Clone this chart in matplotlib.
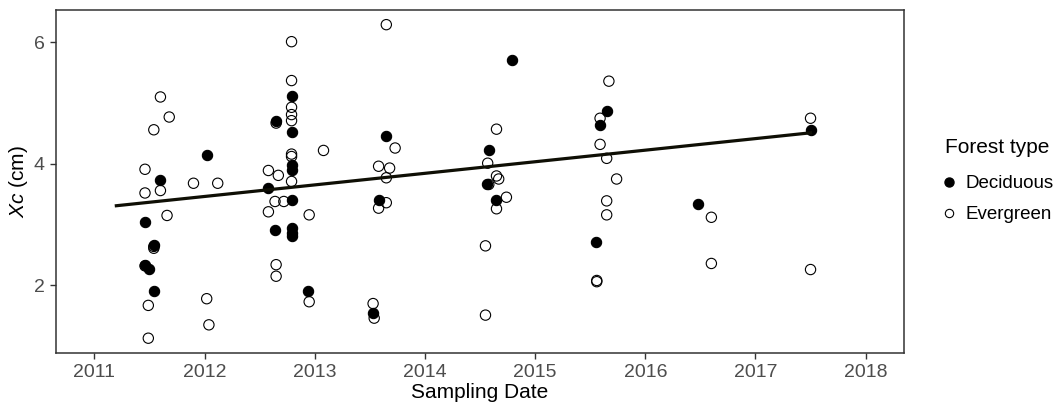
import matplotlib
matplotlib.use('Agg')
import matplotlib.pyplot as plt
from matplotlib.lines import Line2D

plt.rcParams['font.family'] = ['Liberation Sans', 'DejaVu Sans']
plt.rcParams['mathtext.fontset'] = 'custom'
plt.rcParams['mathtext.it'] = 'Liberation Sans:italic'
plt.rcParams['mathtext.rm'] = 'Liberation Sans'

# Deciduous plots (filled)
dec_x = [2011.46, 2011.46, 2011.50, 2011.54, 2011.54, 2011.60, 2012.02, 2012.58,
         2012.65, 2012.64, 2012.79, 2012.79, 2012.79, 2012.79, 2012.79, 2012.79,
         2012.79, 2012.79, 2012.94, 2013.53, 2013.58, 2013.65, 2014.56, 2014.58,
         2014.65, 2014.79, 2015.55, 2015.59, 2015.65, 2016.48, 2017.50]
dec_y = [3.05, 2.34, 2.27, 2.66, 1.91, 3.73, 4.15, 3.61,
         4.70, 2.91, 5.11, 4.53, 3.98, 3.90, 3.41, 2.94,
         2.86, 2.82, 1.91, 1.54, 3.41, 4.46, 3.67, 4.22,
         3.40, 5.71, 2.72, 4.64, 4.87, 3.34, 4.56]

# Evergreen plots (open)
eve_x = [2011.46, 2011.46, 2011.49, 2011.49, 2011.54, 2011.54, 2011.54, 2011.46,
         2011.60, 2011.60, 2011.66, 2011.68, 2011.90, 2012.02, 2012.04, 2012.12,
         2012.58, 2012.58, 2012.64, 2012.65, 2012.65, 2012.65, 2012.67, 2012.72,
         2012.79, 2012.79, 2012.79, 2012.79, 2012.79, 2012.79, 2012.79, 2012.79,
         2012.95, 2012.95, 2013.08, 2013.53, 2013.54, 2013.58, 2013.58, 2013.65,
         2013.65, 2013.65, 2013.68, 2013.73, 2014.55, 2014.55, 2014.57, 2014.58,
         2014.65, 2014.65, 2014.65, 2014.67, 2014.74, 2015.56, 2015.56, 2015.59,
         2015.59, 2015.65, 2015.65, 2015.65, 2015.67, 2015.74, 2016.60, 2016.60,
         2017.50, 2017.50]
eve_y = [3.91, 3.52, 1.67, 1.13, 4.56, 2.61, 2.64, 2.32,
         5.10, 3.56, 3.15, 4.77, 3.68, 1.78, 1.35, 3.68,
         3.89, 3.21, 3.38, 4.67, 2.34, 2.15, 3.81, 3.38,
         6.01, 5.37, 4.93, 4.81, 4.71, 4.16, 4.12, 3.71,
         3.16, 1.73, 4.22, 1.70, 1.46, 3.96, 3.27, 6.29,
         3.77, 3.36, 3.93, 4.26, 2.65, 1.51, 4.01, 3.66,
         4.57, 3.80, 3.26, 3.75, 3.45, 2.08, 2.06, 4.75,
         4.32, 4.09, 3.39, 3.16, 5.36, 3.75, 3.12, 2.36,
         4.75, 2.26]

# linear fit ends
fit_x = [2011.20, 2017.50]
fit_y = [3.31, 4.51]

year_ticks = [2011, 2012, 2013, 2014, 2015, 2016, 2017, 2018]
y_ticks = [2, 4, 6]

fig = plt.figure(figsize=(10.64, 4.03), dpi=100)
ax = fig.add_axes([0.0526, 0.124, 0.797, 0.851])

ax.scatter(eve_x, eve_y, s=55, facecolors='none', edgecolors='black', linewidths=0.8, zorder=3)
ax.scatter(dec_x, dec_y, s=55, facecolors='black', edgecolors='black', linewidths=0.8, zorder=3)
ax.plot(fit_x, fit_y, color='#0f0f05', linewidth=2.3, zorder=4)

ax.set_xlim(2010.652, 2018.348)
ax.set_ylim(0.886, 6.53)
ax.set_xticks(year_ticks)
ax.set_yticks(y_ticks)
ax.tick_params(labelsize=14, labelcolor='#4d4d4d', color='#333333', length=4, width=1, pad=4)
for sp in ax.spines.values():
    sp.set_color('#333333')
    sp.set_linewidth(1.1)

ax.set_xlabel('Sampling Date', fontsize=15, labelpad=1)
ax.set_ylabel(r'$\mathit{Xc}$ (cm)', fontsize=15, labelpad=3)

handles = [
    Line2D([], [], linestyle='none', marker='o', markersize=6.5, markerfacecolor='black',
           markeredgecolor='black', label='Deciduous'),
    Line2D([], [], linestyle='none', marker='o', markersize=6, markerfacecolor='none',
           markeredgecolor='black', markeredgewidth=0.8, label='Evergreen'),
]
leg = fig.legend(handles=handles, title='Forest type', loc='upper left',
                 bbox_to_anchor=(0.8807, 0.676), frameon=False, fontsize=13.5,
                 title_fontsize=15, handletextpad=0.6, labelspacing=0.75,
                 handlelength=0.5, borderaxespad=0)
leg._legend_box.align = 'left'
leg._legend_box.sep = 13

fig.savefig('out.png', dpi=100)
